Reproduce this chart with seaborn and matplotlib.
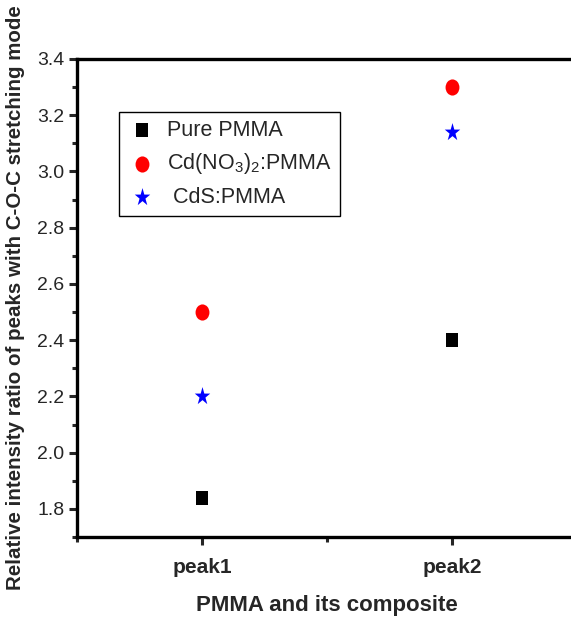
import matplotlib
matplotlib.use("Agg")
import matplotlib.pyplot as plt
from matplotlib.markers import MarkerStyle
from matplotlib.transforms import Affine2D
from matplotlib.ticker import FixedLocator, MultipleLocator, FormatStrFormatter
import numpy as np
import pandas as pd
import seaborn as sns

# Relative intensity ratio of FTIR peaks against the C-O-C stretching mode
peaks = ["peak1", "peak2"]
samples = ["Pure PMMA", r"Cd(NO$_3$)$_2$:PMMA", " CdS:PMMA"]
pure_pmma = [1.84, 2.40]
cd_nitrate_pmma = [2.50, 3.30]
cds_pmma = [2.20, 3.14]

colors = {samples[0]: "black", samples[1]: "red", samples[2]: "blue"}
squeeze = Affine2D().scale(0.86, 1.0)
markers = {samples[0]: MarkerStyle("s", transform=squeeze),
           samples[1]: MarkerStyle("o", transform=squeeze),
           samples[2]: MarkerStyle("*", transform=squeeze)}
sizes = {samples[0]: 100, samples[1]: 135, samples[2]: 185}

rows = []
for name, vals in zip(samples, [pure_pmma, cd_nitrate_pmma, cds_pmma]):
    for i, v in enumerate(vals):
        rows.append({"pos": i + 1, "ratio": v, "sample": name})
df = pd.DataFrame(rows)

sns.set_style("ticks")
plt.rcParams["font.family"] = ["Liberation Sans", "DejaVu Sans"]
plt.rcParams["mathtext.fontset"] = "custom"
plt.rcParams["mathtext.rm"] = "Liberation Sans"
plt.rcParams["mathtext.it"] = "Liberation Sans:italic"
plt.rcParams["mathtext.bf"] = "Liberation Sans:bold"

fig = plt.figure(figsize=(5.71, 6.24), dpi=100)
ax = fig.add_axes([77 / 571, 87 / 624, 500 / 571, 478 / 624])

for name in samples:
    sub = df[df["sample"] == name]
    sns.scatterplot(data=sub, x="pos", y="ratio", ax=ax, color=colors[name],
                    marker=markers[name], s=sizes[name], linewidth=0,
                    label=name, zorder=3)

ax.set_xlim(0.5, 2.5)
ax.set_ylim(1.7, 3.4)
ax.xaxis.set_major_locator(FixedLocator([1, 2]))
ax.set_xticklabels(peaks, fontsize=15, fontweight="bold")
ax.xaxis.set_minor_locator(FixedLocator([0.5, 1.5, 2.5]))
ax.yaxis.set_major_locator(MultipleLocator(0.2))
ax.yaxis.set_minor_locator(MultipleLocator(0.1))
ax.yaxis.set_major_formatter(FormatStrFormatter("%.1f"))

ax.tick_params(which="major", direction="out", length=6, width=2.2, pad=3)
ax.tick_params(which="minor", direction="out", length=3.5, width=2.2)
ax.tick_params(axis="y", which="major", labelsize=14)
ax.tick_params(axis="x", which="major", pad=9)
for side in ["left", "bottom", "top", "right"]:
    ax.spines[side].set_linewidth(2.4)
    ax.spines[side].set_color("black")

ax.set_xlabel("PMMA and its composite", fontsize=16, fontweight="bold", labelpad=13)
ax.set_ylabel("Relative intensity ratio of peaks with C-O-C stretching mode",
              fontsize=14.8, fontweight="bold", labelpad=9)

leg = ax.legend(loc="upper left", bbox_to_anchor=(0.084, 0.889), borderaxespad=0,
                fontsize=15.5, frameon=True, fancybox=False, edgecolor="black",
                framealpha=1, handletextpad=0.5, labelspacing=0.5,
                borderpad=0.35, handlelength=1.4)
leg.get_frame().set_linewidth(1.0)

fig.savefig("out.png", dpi=100)
